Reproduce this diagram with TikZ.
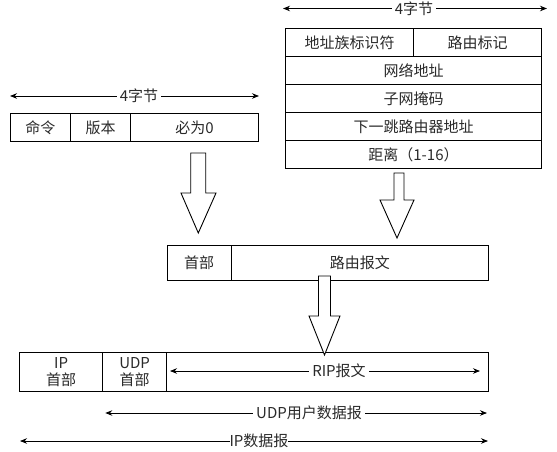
\documentclass[tikz,border=0pt]{standalone}
\usepackage{fontspec}
\setmainfont{Noto Sans CJK SC}
\usetikzlibrary{arrows.meta}
\definecolor{txtgray}{HTML}{2A2A2A}
\begin{document}
\begin{tikzpicture}[x=1pt,y=-1pt,
  box/.style={draw=black,line width=1pt,fill=white,anchor=north west,inner sep=0pt,
    text=txtgray,font=\fontsize{15}{17}\selectfont,align=center},
  dim/.style={line width=0.8pt,{Stealth[length=7pt,width=5.5pt]}-{Stealth[length=7pt,width=5.5pt]}},
  dimlbl/.style={fill=white,inner xsep=3pt,inner ysep=1pt,text=txtgray,font=\fontsize{15}{17}\selectfont},
  bigarrow/.style={draw=black,line width=0.9pt,fill=white,line join=miter}]
\useasboundingbox (0,0) rectangle (557,451);

% ---- left header box ----
\node[box,minimum width=60.5pt,minimum height=28pt] (cmd) at (9.5,113) {命令};
\node[box,minimum width=60pt,minimum height=28pt] (ver) at (70,113) {版本};
\node[box,minimum width=128pt,minimum height=28pt] (zero) at (130,113) {必为0};
\coordinate (la) at (10,96);
\coordinate (lb) at (259,96);
\draw[dim] (la) -- (lb);
\node[dimlbl] (lbytes) at (139,96) {4字节};

% ---- right route entry ----
\node[box,minimum width=128pt,minimum height=28pt] (afi) at (285,28) {地址族标识符};
\node[box,minimum width=128pt,minimum height=28pt] (tag) at (413,28) {路由标记};
\node[box,minimum width=256pt,minimum height=28pt] (net) at (285,56) {网络地址};
\node[box,minimum width=256pt,minimum height=28pt] (mask) at (285,84) {子网掩码};
\node[box,minimum width=256pt,minimum height=28pt] (hop) at (285,112) {下一跳路由器地址};
\node[box,minimum width=256pt,minimum height=28pt] (dist) at (285,140) {距离（1-16）};
\coordinate (ra) at (283,8.5);
\coordinate (rb) at (547,8.5);
\draw[dim] (ra) -- (rb);
\node[dimlbl] (rbytes) at (414,8.5) {4字节};

% ---- middle RIP message ----
\node[box,minimum width=64pt,minimum height=35.5pt] (mhead) at (166.5,244.7) {首部};
\node[box,minimum width=257.5pt,minimum height=35.5pt] (mbody) at (230.5,244.7) {路由报文};

% ---- bottom IP datagram ----
\node[box,minimum width=83.3pt,minimum height=38.7pt] (iph) at (19,352.3) {IP\\首部};
\node[box,minimum width=63.7pt,minimum height=38.7pt] (udph) at (102.3,352.3) {UDP\\首部};
\node[box,minimum width=322pt,minimum height=38.7pt] (rip) at (166,352.3) {};

% ---- hollow block arrows ----
\draw[bigarrow] (190.7,153) -- (205.7,153) -- (205.7,193) -- (216,193) -- (198.3,233)
  -- (181,193) -- (190.7,193) -- cycle;
\draw[bigarrow] (394,173) -- (404,173) -- (404,200) -- (414,200) -- (397,238)
  -- (380,200) -- (394,200) -- cycle;
\draw[bigarrow] (318.5,276) -- (330.5,276) -- (330.5,316) -- (340,316) -- (324.5,355)
  -- (309,316) -- (318.5,316) -- cycle;

% ---- dimension arrows at bottom ----
\coordinate (ripa) at (170,371);
\coordinate (ripb) at (480,371);
\draw[dim] (ripa) -- (ripb);
\node[dimlbl] (riplbl) at (339,371) {RIP报文};
\coordinate (udpa) at (105.3,413);
\coordinate (udpb) at (487,413);
\draw[dim] (udpa) -- (udpb);
\node[dimlbl] (udplbl) at (309,413) {UDP用户数据报};
\coordinate (ipa) at (20,441);
\coordinate (ipb) at (488,441);
\draw[dim] (ipa) -- (ipb);
\node[dimlbl,inner xsep=0pt] (iplbl) at (259,441) {IP数据报};
\end{tikzpicture}
\end{document}
